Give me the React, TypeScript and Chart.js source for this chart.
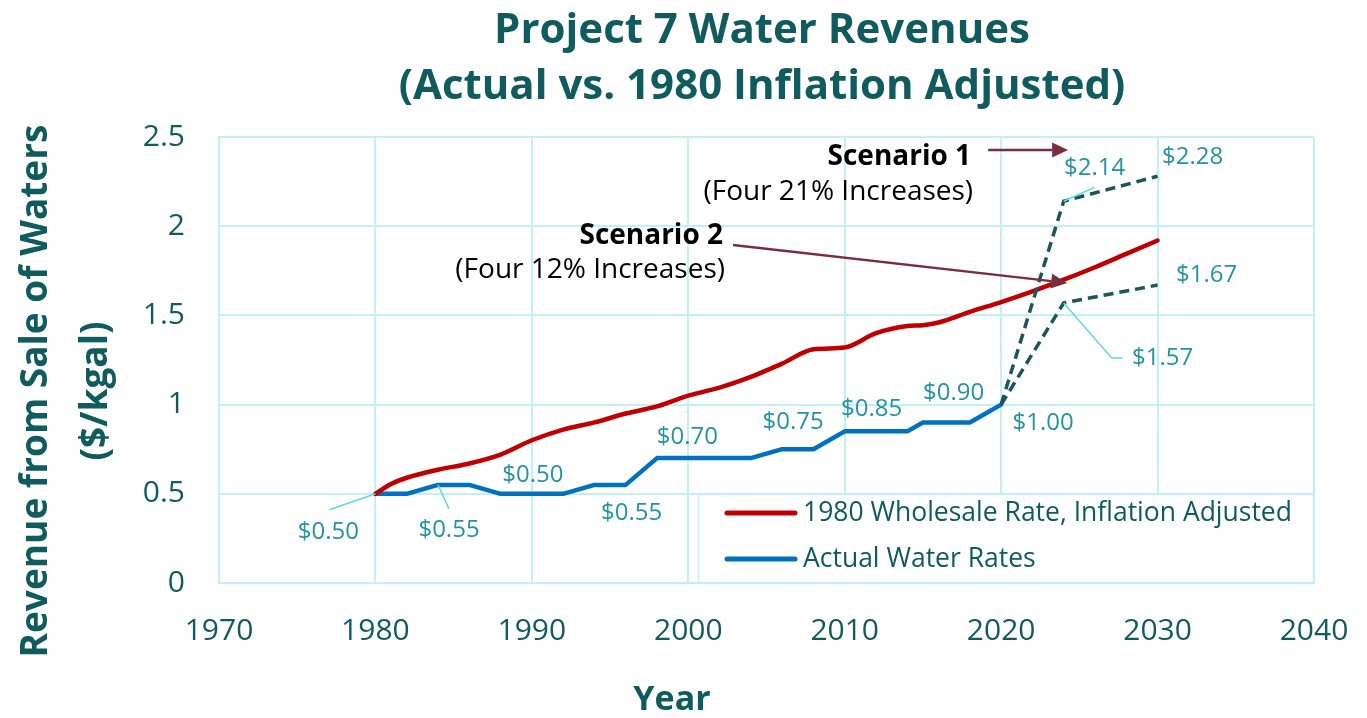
import React, { useEffect, useRef } from "react";
import { Chart, registerables } from "chart.js";

Chart.register(...registerables);

// ---------- DATA ----------
const inflationYears = [1980, 1981, 1982, 1984, 1986, 1988, 1990, 1992, 1994, 1996, 1998, 2000, 2002, 2004, 2006, 2008, 2010, 2012, 2014, 2015, 2016, 2018, 2020, 2022, 2024, 2026, 2028, 2030];
const inflationValues = [0.5, 0.555, 0.59, 0.635, 0.67, 0.72, 0.8, 0.86, 0.9, 0.95, 0.99, 1.05, 1.095, 1.155, 1.23, 1.31, 1.32, 1.4, 1.44, 1.445, 1.46, 1.52, 1.575, 1.635, 1.7, 1.77, 1.845, 1.92];

const actualYears = [1980, 1982, 1984, 1986, 1988, 1990, 1992, 1994, 1996, 1998, 2000, 2002, 2004, 2006, 2008, 2010, 2012, 2014, 2015, 2016, 2018, 2020];
const actualValues = [0.5, 0.5, 0.55, 0.55, 0.5, 0.5, 0.5, 0.55, 0.55, 0.7, 0.7, 0.7, 0.7, 0.75, 0.75, 0.85, 0.85, 0.85, 0.9, 0.9, 0.9, 1.0];

const scenarioYears = [2020, 2024, 2030];
const scenario1Values = [1.0, 2.14, 2.28];
const scenario2Values = [1.0, 1.57, 1.67];

const seriesNames = ["1980 Wholesale Rate, Inflation Adjusted", "Actual Water Rates", "Scenario 1", "Scenario 2"];

const xTicks = [1970, 1980, 1990, 2000, 2010, 2020, 2030, 2040];
const yTicks = [0, 0.5, 1, 1.5, 2, 2.5];

const titleLines = ["Project 7 Water Revenues", "(Actual vs. 1980 Inflation Adjusted)"];
const yTitleLines = ["Revenue from Sale of Waters", "($/kgal)"];
const xTitle = "Year";

// data labels: [year, value] taken from the series above
const labelPoints: [number, number][] = [
  [1980, 0.5], [1984, 0.55], [1990, 0.5], [1996, 0.55], [2000, 0.7],
  [2006, 0.75], [2010, 0.85], [2016, 0.9], [2020, 1.0],
  [2024, 2.14], [2030, 2.28], [2030, 1.67], [2024, 1.57],
];

// ---------- STYLE / LAYOUT ----------
const FONT = "'Open Sans', 'Noto Sans', sans-serif";
const TEAL = "#0f5b5e";
const LABEL = "#2394a3";
const GRID = "#c3eff6";
const LEADER = "#63d6ea";
const ARROW = "#7a2c41";
const RED = "#c00000";
const BLUE = "#0070c0";
const DASH = "#1b5659";

// label pixel offsets [dx, dy] and optional leader polyline (relative to point)
const labelOffsets: { dx: number; dy: number; leader?: [number, number][] }[] = [
  { dx: -47, dy: 38, leader: [[-46, 16]] },
  { dx: 11, dy: 45, leader: [[11, 24]] },
  { dx: 1, dy: -19 },
  { dx: 6, dy: 28 },
  { dx: -1, dy: -21 },
  { dx: 11, dy: -27 },
  { dx: 27, dy: -22 },
  { dx: 15, dy: -29 },
  { dx: 42, dy: 19 },
  { dx: 31, dy: -33, leader: [[31, -14]] },
  { dx: 35, dy: -19 },
  { dx: 49, dy: -10 },
  { dx: 99, dy: 55, leader: [[48, 55], [59, 55]] },
];

// annotations in data coordinates
const arrows = [
  { from: [2019.17, 2.427], to: [2024.28, 2.427] },
  { from: [2002.86, 1.895], to: [2024.22, 1.682] },
];
const notes = [
  { x: 2018.08, y1: 2.388, y2: 2.192, bold: "Scenario 1", text: "(Four 21% Increases)" },
  { x: 2002.22, y1: 1.945, y2: 1.754, bold: "Scenario 2", text: "(Four 12% Increases)" },
];

const toPoints = (xs: number[], ys: number[]) => xs.map((x, i) => ({ x, y: ys[i] }));

const overlayPlugin = {
  id: "overlay",
  afterDatasetsDraw(chart: any) {
    const ctx = chart.ctx as CanvasRenderingContext2D;
    const area = chart.chartArea;
    // legend box inside plot
    const bx = 698, by = 494, bw = area.right - bx, bh = area.bottom - by;
    ctx.save();
    ctx.fillStyle = "#ffffff";
    ctx.fillRect(bx, by, bw, bh);
    ctx.strokeStyle = GRID;
    ctx.lineWidth = 1.5;
    ctx.strokeRect(bx + 0.5, by + 0.5, bw - 1, bh - 1);
    const entries = [0, 1];
    entries.forEach((di, k) => {
      const ds = chart.data.datasets[di];
      const y = 513 + k * 46;
      ctx.strokeStyle = ds.borderColor;
      ctx.lineWidth = 5;
      ctx.lineCap = "round";
      ctx.beginPath();
      ctx.moveTo(727, y);
      ctx.lineTo(795, y);
      ctx.stroke();
      ctx.fillStyle = TEAL;
      ctx.font = `26.5px ${FONT}`;
      ctx.textAlign = "left";
      ctx.textBaseline = "middle";
      ctx.fillText(ds.label, 803, y);
    });
    ctx.restore();
  },
  afterDraw(chart: any) {
    const ctx = chart.ctx as CanvasRenderingContext2D;
    const xs = chart.scales.x;
    const ys = chart.scales.y;
    const px = (v: number) => xs.getPixelForValue(v);
    const py = (v: number) => ys.getPixelForValue(v);
    ctx.save();

    // title
    ctx.fillStyle = TEAL;
    ctx.font = `bold 42px ${FONT}`;
    ctx.textAlign = "center";
    ctx.textBaseline = "alphabetic";
    ctx.fillText(titleLines[0], 762, 43);
    ctx.fillText(titleLines[1], 762, 99);

    // y axis title
    ctx.save();
    ctx.translate(0, 391);
    ctx.rotate(-Math.PI / 2);
    ctx.font = `bold 37px ${FONT}`;
    ctx.textBaseline = "middle";
    ctx.textAlign = "center";
    ctx.fillText(yTitleLines[0], 0, 36);
    ctx.fillText(yTitleLines[1], 0, 96);
    ctx.restore();

    // x axis title
    ctx.font = `bold 34px ${FONT}`;
    ctx.textAlign = "center";
    ctx.textBaseline = "middle";
    ctx.fillText(xTitle, 672, 700);

    // data labels + leaders
    labelPoints.forEach(([yr, v], i) => {
      const o = labelOffsets[i];
      const x0 = px(yr), y0 = py(v);
      if (o.leader) {
        ctx.strokeStyle = LEADER;
        ctx.lineWidth = 1.5;
        ctx.beginPath();
        ctx.moveTo(x0, y0);
        o.leader.forEach(([lx, ly]) => ctx.lineTo(x0 + lx, y0 + ly));
        ctx.stroke();
      }
      ctx.fillStyle = LABEL;
      ctx.font = `24px ${FONT}`;
      ctx.textAlign = "center";
      ctx.textBaseline = "middle";
      ctx.fillText(`$${v.toFixed(2)}`, x0 + o.dx, y0 + o.dy);
    });

    // arrows
    arrows.forEach((a) => {
      const x1 = px(a.from[0]), y1 = py(a.from[1]);
      const x2 = px(a.to[0]), y2 = py(a.to[1]);
      const ang = Math.atan2(y2 - y1, x2 - x1);
      const hl = 16, hw = 7.5;
      const bxp = x2 - hl * Math.cos(ang), byp = y2 - hl * Math.sin(ang);
      ctx.strokeStyle = ARROW;
      ctx.fillStyle = ARROW;
      ctx.lineWidth = 2.5;
      ctx.beginPath();
      ctx.moveTo(x1, y1);
      ctx.lineTo(bxp, byp);
      ctx.stroke();
      ctx.beginPath();
      ctx.moveTo(x2, y2);
      ctx.lineTo(bxp + hw * Math.sin(ang), byp - hw * Math.cos(ang));
      ctx.lineTo(bxp - hw * Math.sin(ang), byp + hw * Math.cos(ang));
      ctx.closePath();
      ctx.fill();
    });

    // scenario notes
    notes.forEach((n) => {
      const x = px(n.x);
      ctx.fillStyle = "#000000";
      ctx.textAlign = "right";
      ctx.textBaseline = "middle";
      ctx.font = `bold 28px ${FONT}`;
      ctx.fillText(n.bold, x, py(n.y1));
      ctx.font = `28px ${FONT}`;
      ctx.fillText(n.text, x + 2, py(n.y2));
    });

    ctx.restore();
  },
};

export default function App() {
  const canvasRef = useRef<HTMLCanvasElement | null>(null);

  useEffect(() => {
    if (!canvasRef.current) return;
    const chart = new Chart(canvasRef.current, {
      type: "line",
      data: {
        datasets: [
          {
            label: seriesNames[0],
            data: toPoints(inflationYears, inflationValues),
            borderColor: RED,
            backgroundColor: RED,
            borderWidth: 4.5,
            pointRadius: 0,
            cubicInterpolationMode: "monotone",
            borderCapStyle: "round",
            order: 1,
          },
          {
            label: seriesNames[1],
            data: toPoints(actualYears, actualValues),
            borderColor: BLUE,
            backgroundColor: BLUE,
            borderWidth: 4.5,
            pointRadius: 0,
            tension: 0,
            borderJoinStyle: "round",
            borderCapStyle: "round",
            order: 2,
          },
          {
            label: seriesNames[2],
            data: toPoints(scenarioYears, scenario1Values),
            borderColor: DASH,
            borderWidth: 3.5,
            borderDash: [10, 6],
            pointRadius: 0,
            tension: 0,
            order: 0,
          },
          {
            label: seriesNames[3],
            data: toPoints(scenarioYears, scenario2Values),
            borderColor: DASH,
            borderWidth: 3.5,
            borderDash: [10, 6],
            pointRadius: 0,
            tension: 0,
            order: 0,
          },
        ],
      },
      options: {
        responsive: false,
        animation: false,
        layout: { padding: { top: 137, right: 53, left: 0, bottom: 0 } },
        plugins: {
          legend: { display: false },
          tooltip: { enabled: false },
          title: { display: false },
        },
        scales: {
          x: {
            type: "linear",
            min: xTicks[0],
            max: xTicks[xTicks.length - 1],
            afterBuildTicks: (s: any) => {
              s.ticks = xTicks.map((v) => ({ value: v }));
            },
            afterFit: (s: any) => {
              s.height = 135;
              s.paddingLeft = 0;
              s.paddingRight = 0;
            },
            ticks: {
              color: TEAL,
              font: { family: FONT, size: 30 },
              padding: 30,
              maxRotation: 0,
              autoSkip: false,
              callback: (v: any) => String(v),
            },
            grid: { color: GRID, lineWidth: 2, drawTicks: false },
            border: { color: GRID, width: 2 },
          },
          y: {
            type: "linear",
            min: yTicks[0],
            max: yTicks[yTicks.length - 1],
            afterBuildTicks: (s: any) => {
              s.ticks = yTicks.map((v) => ({ value: v }));
            },
            afterFit: (s: any) => {
              s.width = 219;
              s.paddingTop = 0;
              s.paddingBottom = 0;
            },
            ticks: {
              color: TEAL,
              font: { family: FONT, size: 30 },
              padding: 34,
              callback: (v: any) => String(v),
            },
            grid: { color: GRID, lineWidth: 2, drawTicks: false },
            border: { color: GRID, width: 2 },
          },
        },
      },
      plugins: [overlayPlugin],
    } as any);
    return () => chart.destroy();
  }, []);

  return (
    <div style={{ position: "absolute", left: 0, top: 0, width: 1367, height: 718, background: "#fff" }}>
      <canvas ref={canvasRef} width={1367} height={718} style={{ display: "block" }} />
    </div>
  );
}
